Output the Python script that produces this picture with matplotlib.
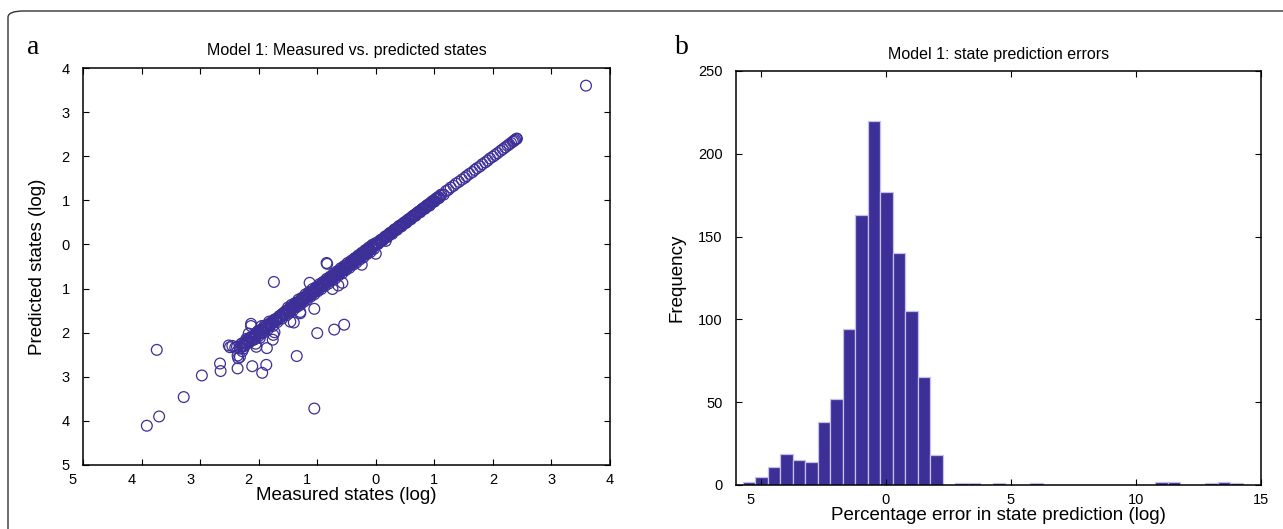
import numpy as np
import matplotlib
matplotlib.use("Agg")
import matplotlib.pyplot as plt
from matplotlib.patches import FancyBboxPatch
from matplotlib.transforms import ScaledTranslation

plt.rcParams['font.family'] = ['Liberation Sans', 'DejaVu Sans']

# ---- panel a: measured vs predicted (log) ----
# main diagonal band
band_x = [-2.32, -2.28, -2.24, -2.20, -2.16, -2.12, -2.08, -2.04, -2.00, -1.96, -1.92,
          -1.88, -1.84, -1.80, -1.76, -1.72, -1.68, -1.64, -1.60, -1.56, -1.52,
          -1.50, -1.44, -1.38, -1.32, -1.26, -1.20, -1.14, -1.08, -1.02, -0.96, -0.90,
          -0.84, -0.78, -0.72, -0.66, -0.60, -0.54, -0.48, -0.42, -0.36, -0.30, -0.24,
          -0.18, -0.12, -0.06,
          -1.47, -1.41, -1.35, -1.29, -1.23, -1.17, -1.11, -1.05, -0.99, -0.93, -0.87,
          -0.81, -0.75, -0.69, -0.63, -0.57, -0.51, -0.45, -0.39, -0.33, -0.27, -0.21,
          -0.15, -0.09, -0.03,
          -1.45, -1.35, -1.25, -1.15, -1.05, -0.95, -0.85, -0.75, -0.65, -0.55, -0.45,
          -0.35, -0.25, -0.15, -0.05,
          0.00, 0.04, 0.08, 0.12, 0.16, 0.20, 0.24, 0.28, 0.32, 0.36, 0.40, 0.44, 0.48,
          0.52, 0.56, 0.60, 0.64, 0.68, 0.72, 0.76, 0.80, 0.84, 0.88, 0.92, 0.96, 1.00,
          1.04, 1.08, 1.12, 1.16, 1.20,
          1.24, 1.28, 1.33, 1.37, 1.42, 1.47, 1.52, 1.55, 1.60, 1.65, 1.69, 1.73, 1.78,
          1.82, 1.87, 1.91, 1.95, 2.00, 2.04, 2.08, 2.13, 2.17, 2.21, 2.25, 2.28, 2.31,
          2.34, 2.36, 2.38, 2.40, 2.41]
band_y = [-2.36, -2.24, -2.30, -2.17, -2.22, -2.09, -2.16, -2.01, -2.08, -1.93, -2.00,
          -1.86, -1.92, -1.78, -1.85, -1.70, -1.76, -1.62, -1.68, -1.55, -1.60,
          -1.43, -1.37, -1.33, -1.25, -1.21, -1.13, -1.08, -1.01, -0.97, -0.90, -0.85,
          -0.78, -0.73, -0.66, -0.61, -0.54, -0.49, -0.42, -0.37, -0.31, -0.25, -0.19,
          -0.13, -0.07, -0.01,
          -1.55, -1.49, -1.42, -1.37, -1.30, -1.25, -1.18, -1.13, -1.06, -1.01, -0.94,
          -0.89, -0.82, -0.77, -0.70, -0.65, -0.58, -0.53, -0.46, -0.41, -0.34, -0.29,
          -0.22, -0.17, -0.10,
          -1.46, -1.36, -1.26, -1.16, -1.06, -0.96, -0.86, -0.76, -0.66, -0.56, -0.46,
          -0.36, -0.26, -0.16, -0.06,
          0.03, 0.01, 0.10, 0.09, 0.18, 0.17, 0.26, 0.24, 0.34, 0.33, 0.42, 0.41, 0.49,
          0.49, 0.57, 0.57, 0.65, 0.65, 0.73, 0.73, 0.81, 0.81, 0.89, 0.88, 0.97, 0.97,
          1.05, 1.05, 1.13, 1.13, 1.21,
          1.24, 1.29, 1.33, 1.38, 1.42, 1.47, 1.51, 1.55, 1.60, 1.64, 1.69, 1.73, 1.77,
          1.82, 1.86, 1.90, 1.95, 1.99, 2.03, 2.07, 2.12, 2.16, 2.20, 2.24, 2.27, 2.30,
          2.33, 2.35, 2.37, 2.39, 2.40]

# densest core of the band
core_x = [-1.50, -1.48, -1.46, -1.44, -1.42, -1.40, -1.38, -1.36, -1.34, -1.32,
          -1.30, -1.28, -1.26, -1.24, -1.22, -1.20, -1.18, -1.16, -1.14, -1.12,
          -1.10, -1.08, -1.06, -1.04, -1.02, -1.00, -0.98, -0.96, -0.94, -0.92,
          -0.90, -0.88, -0.86, -0.84, -0.82, -0.80, -0.78, -0.76, -0.74, -0.72,
          -0.70, -0.68, -0.66, -0.64, -0.62, -0.60, -0.58, -0.56, -0.54, -0.52,
          -0.50, -0.48, -0.46, -0.44, -0.42, -0.40, -0.38, -0.36, -0.34, -0.32,
          -0.30, -0.28, -0.26, -0.24, -0.22, -0.20, -0.18, -0.16, -0.14, -0.12,
          -0.10, -0.08, -0.06, -0.04, -0.02, 0.00, 0.02, 0.04, 0.06, 0.08,
          0.10, 0.12, 0.14, 0.16, 0.18, 0.20, 0.22, 0.24, 0.26, 0.28,
          0.30, 0.32, 0.34, 0.36, 0.38, 0.40, 0.42, 0.44, 0.46, 0.48,
          0.50, 0.52, 0.54, 0.56, 0.58, 0.60, 0.62, 0.64, 0.66, 0.68,
          0.70, 0.72, 0.74, 0.76, 0.78, 0.80, 0.82, 0.84, 0.86, 0.88,
          0.90, 0.92, 0.94, 0.96, 0.98, 1.00, 1.02, 1.04, 1.06, 1.08, 1.10,
          -2.28, -2.25, -2.22, -2.19, -2.16, -2.13, -2.10, -2.07, -2.04, -2.01,
          -1.98, -1.95, -1.92, -1.89, -1.86, -1.83, -1.80, -1.77, -1.74, -1.71,
          -1.68, -1.65, -1.62, -1.59, -1.56, -1.53]
core_y = [-1.53, -1.48, -1.43, -1.47, -1.42, -1.37, -1.41, -1.36, -1.31, -1.35,
          -1.30, -1.25, -1.29, -1.24, -1.19, -1.23, -1.18, -1.13, -1.17, -1.12,
          -1.07, -1.11, -1.06, -1.01, -1.05, -1.00, -0.95, -0.99, -0.94, -0.89,
          -0.93, -0.88, -0.83, -0.87, -0.82, -0.77, -0.81, -0.76, -0.71, -0.75,
          -0.70, -0.65, -0.69, -0.64, -0.59, -0.63, -0.58, -0.53, -0.57, -0.52,
          -0.47, -0.51, -0.46, -0.41, -0.45, -0.40, -0.35, -0.39, -0.34, -0.29,
          -0.33, -0.28, -0.23, -0.27, -0.22, -0.17, -0.21, -0.16, -0.11, -0.15,
          -0.10, -0.05, -0.09, -0.04, 0.01, -0.01, 0.03, 0.03, 0.07, 0.07,
          0.11, 0.11, 0.15, 0.15, 0.19, 0.19, 0.23, 0.23, 0.27, 0.27,
          0.31, 0.31, 0.35, 0.35, 0.39, 0.39, 0.43, 0.43, 0.47, 0.47,
          0.51, 0.51, 0.55, 0.55, 0.59, 0.59, 0.63, 0.63, 0.67, 0.67,
          0.71, 0.71, 0.75, 0.75, 0.79, 0.79, 0.83, 0.83, 0.87, 0.87,
          0.91, 0.91, 0.95, 0.95, 0.99, 0.99, 1.03, 1.03, 1.07, 1.07, 1.11,
          -2.30, -2.24, -2.25, -2.17, -2.19, -2.11, -2.13, -2.05, -2.07, -1.99,
          -2.01, -1.93, -1.95, -1.87, -1.89, -1.81, -1.83, -1.75, -1.77, -1.69,
          -1.71, -1.63, -1.65, -1.57, -1.59, -1.51]

# more points filling the dense part of the band
fill_x = [-1.485, -1.425, -1.365, -1.305, -1.245, -1.185, -1.125, -1.065, -1.005,
          -0.945, -0.885, -0.825, -0.765, -0.705, -0.645, -0.585, -0.525, -0.465,
          -0.405, -0.345, -0.285, -0.225, -0.165, -0.105, -0.045,
          -2.30, -2.25, -2.21, -2.15, -2.10, -2.05, -2.01, -1.95, -1.90, -1.85, -1.80,
          -1.75, -1.70, -1.65, -1.60, -1.55, -2.40, -2.45, -2.28, -2.05, -1.98]
fill_y = [-1.465, -1.455, -1.345, -1.335, -1.225, -1.215, -1.105, -1.095, -0.985,
          -0.975, -0.865, -0.855, -0.745, -0.735, -0.625, -0.615, -0.505, -0.495,
          -0.385, -0.375, -0.265, -0.255, -0.145, -0.135, -0.025,
          -2.26, -2.30, -2.14, -2.12, -2.16, -2.06, -1.96, -1.98, -1.84, -1.88, -1.82,
          -1.72, -1.73, -1.66, -1.58, -1.52, -2.34, -2.30, -2.42, -2.25, -2.12]

# scattered points off the band
out_x = [-3.91, -3.70, -3.74, -3.28, -2.97, -2.66, -2.65, -2.36, -2.11, -1.94, -1.87,
         -1.35, -1.05, -1.00, -0.71, -0.54, -1.74, -0.83, -1.05, -0.24, -0.57, -0.64,
         -0.74, -1.13, -1.86, -2.49, -2.37, -2.35, -2.32, -2.36, -2.13, -2.17, -2.09,
         -1.95, -1.76, -1.75, -2.04, -2.26, -2.20, -1.95, -1.82, -1.46, -1.40, -1.29,
         0.00, 0.17, -0.84, -1.29, 3.59, -1.73, -2.51, -2.13]
out_y = [-4.11, -3.90, -2.39, -3.46, -2.97, -2.70, -2.87, -2.81, -2.76, -2.91, -2.73,
         -2.53, -3.72, -2.01, -1.93, -1.82, -0.85, -0.44, -1.46, -0.46, -0.87, -0.93,
         -1.01, -0.87, -2.35, -2.33, -2.32, -2.58, -2.55, -2.52, -1.85, -2.02, -2.13,
         -2.02, -2.16, -2.05, -2.32, -2.36, -2.24, -1.85, -1.75, -1.75, -1.77, -1.56,
         -0.21, 0.08, -0.42, -1.53, 3.60, -1.99, -2.29, -1.80]

# ---- panel b: histogram of prediction errors ----
bin_start = -5.74
bin_width = 0.5
counts = [2, 5, 11, 19, 15, 14, 38, 52, 94, 163, 220, 177, 140, 105, 65, 18,
          0, 1, 1, 0, 1, 0, 0, 1, 0, 0, 0, 0, 0, 0, 0, 0, 0, 2, 2, 0, 0, 1, 2, 1]

a_ticks = [-5, -4, -3, -2, -1, 0, 1, 2, 3, 4]
a_labels = ['5', '4', '3', '2', '1', '0', '1', '2', '3', '4']
b_xticks = [-5, 0, 5, 10, 15]
b_xlabels = ['5', '0', '5', '10', '15']
b_yticks = [0, 50, 100, 150, 200, 250]

blue = '#3d2f98'

fig = plt.figure(figsize=(12.83, 5.29), dpi=100)

# rounded frame around the figure
frame = FancyBboxPatch((8 / 1283, -0.1), 1.2, 1.1 - 11 / 529,
                       boxstyle="round,pad=0,rounding_size=0.012",
                       transform=fig.transFigure, fill=False,
                       edgecolor='#333333', linewidth=1.0)
fig.patches.append(frame)

shift = ScaledTranslation(-10 / 100, 0, fig.dpi_scale_trans)


def style(ax):
    ax.tick_params(direction='in', length=4, width=0.8, labelsize=10.5,
                   top=True, right=True)
    ax.tick_params(axis='x', pad=6)
    ax.tick_params(axis='y', pad=9.5)
    for s in ax.spines.values():
        s.set_linewidth(1.1)


ax1 = fig.add_axes([83 / 1283, 1 - 465 / 529, 527 / 1283, 397 / 529])
for xs, ys in [(band_x, band_y), (core_x, core_y), (fill_x, fill_y), (out_x, out_y)]:
    ax1.scatter(xs, ys, s=60, facecolors='none', edgecolors=blue, linewidths=0.9)
ax1.set_xlim(-5, 4)
ax1.set_ylim(-5, 4)
ax1.set_xticks(a_ticks)
ax1.set_xticklabels(a_labels)
ax1.set_yticks(a_ticks)
ax1.set_yticklabels(a_labels)
style(ax1)
for t, lab in zip(a_ticks, ax1.get_xticklabels()):
    if t < 0:
        lab.set_transform(lab.get_transform() + shift)
ax1.set_title('Model 1: Measured vs. predicted states', fontsize=11.5, pad=9)
ax1.set_xlabel('Measured states (log)', fontsize=13.5, labelpad=0)
ax1.set_ylabel('Predicted states (log)', fontsize=13.5, labelpad=11)

ax2 = fig.add_axes([736 / 1283, 1 - 485 / 529, 525 / 1283, 414 / 529])
lefts = bin_start + bin_width * np.arange(len(counts))
ax2.bar(lefts, counts, width=bin_width, align='edge', color=blue,
        edgecolor='#c4c0ea', linewidth=0.9)
ax2.set_xlim(-6, 15)
ax2.set_ylim(0, 250)
ax2.set_xticks(b_xticks)
ax2.set_xticklabels(b_xlabels)
ax2.set_yticks(b_yticks)
style(ax2)
for t, lab in zip(b_xticks, ax2.get_xticklabels()):
    if t < 0:
        lab.set_transform(lab.get_transform() + shift)
ax2.set_title('Model 1: state prediction errors', fontsize=11.5, pad=9)
ax2.set_xlabel('Percentage error in state prediction (log)', fontsize=13.5, labelpad=0)
ax2.set_ylabel('Frequency', fontsize=13.5, labelpad=9)

fig.text(33 / 1283, 1 - 47 / 529, 'a', fontsize=20, family='Liberation Serif',
         ha='center', va='center')
fig.text(682 / 1283, 1 - 47 / 529, 'b', fontsize=20, family='Liberation Serif',
         ha='center', va='center')

fig.savefig('out.png', dpi=100)
